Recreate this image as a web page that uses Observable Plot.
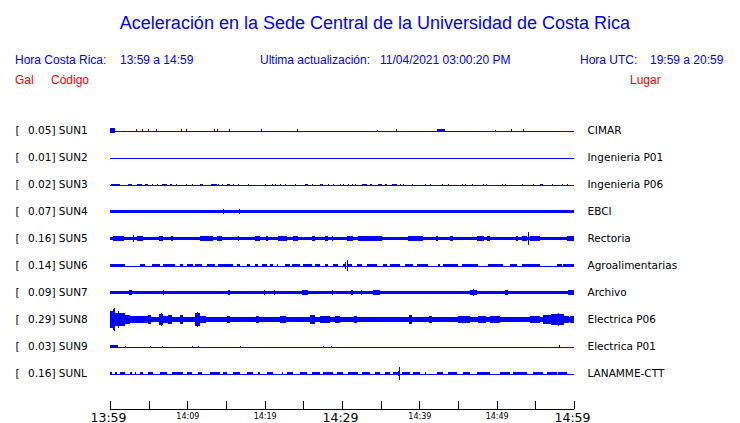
<!DOCTYPE html>
<html><head><meta charset="utf-8">
<script src="https://cdn.jsdelivr.net/npm/d3@7"></script>
<script src="https://cdn.jsdelivr.net/npm/@observablehq/plot@0.6"></script>
<style>
html,body{margin:0;padding:0;background:#fff}
body{width:740px;height:423px;position:relative;overflow:hidden}
#hdr,#traces,#axis{position:absolute;left:0}
#hdr{top:0}#traces{top:100px}#axis{top:390px}
</style></head><body>
<div id="hdr"></div><div id="traces"></div><div id="axis"></div>
<script>
// ---- data ----
const stationCodes = ["SUN1","SUN2","SUN3","SUN4","SUN5","SUN6","SUN7","SUN8","SUN9","SUNL"];
const peakGal = [0.05,0.01,0.02,0.07,0.16,0.14,0.09,0.29,0.03,0.16];
const places = ["CIMAR","Ingenieria P01","Ingenieria P06","EBCI","Rectoria","Agroalimentarias","Archivo","Electrica P06","Electrica P01","LANAMME-CTT"];

// minutes after 13:59 ; envelope half-amplitude in gal
const bandsSUN1 = [[0,0.65,0.05],[42.3,43.2,0.035]];
const spikesSUN1 = [[3.36,0.03],[4.14,0.03],[4.91,0.03],[5.95,0.025],[9.18,0.03],[9.83,0.03],[13.45,0.025],[13.84,0.03],[15.39,0.03],[19.53,0.03],[24.18,0.03],[34.53,0.02],[36.98,0.03],[42.41,0.045],[42.8,0.04],[43.19,0.04],[49.78,0.02],[51.85,0.03],[53.41,0.03]];
const bandsSUN2 = [];
const spikesSUN2 = [];
const bandsSUN3 = [[0.13,1.29,0.02],[2.37,2.8,0.02],[3.45,4.1,0.02],[4.53,4.96,0.02],[6.77,7.33,0.02],[7.76,7.97,0.02],[11.64,12.07,0.02],[13.02,13.79,0.02],[15.09,15.52,0.02],[25.22,25.65,0.02],[27.16,27.59,0.02],[32.54,33.19,0.02],[33.62,33.84,0.02],[34.7,35.13,0.02],[35.56,35.86,0.02],[36.42,37.07,0.02],[55.6,56.03,0.02]];
const spikesSUN3 = [[5.39,0.02],[6.03,0.02],[8.53,0.02],[9.83,0.02],[10.56,0.02],[14.01,0.02],[14.44,0.02],[15.95,0.02],[16.59,0.02],[17.89,0.02],[20.04,0.02],[20.9,0.02],[21.34,0.02],[21.98,0.02],[22.63,0.02],[23.92,0.02],[26.08,0.02],[28.23,0.02],[28.88,0.02],[29.74,0.02],[30.17,0.02],[30.82,0.02],[31.25,0.02],[31.68,0.02],[37.5,0.02],[37.93,0.02],[39.01,0.02],[40.73,0.02],[41.38,0.02],[42.89,0.02],[43.75,0.02],[45.47,0.02],[45.91,0.02],[46.77,0.02],[48.28,0.02],[48.62,0.02],[50.65,0.02],[51.08,0.02],[53.24,0.02],[54.74,0.02],[57.11,0.02],[58.41,0.02],[59.05,0.02]];
const bandsSUN4 = [[0,60,0.046]];
const spikesSUN4 = [[14.6,0.06],[16.72,0.07]];
const bandsSUN5 = [[0,60,0.048],[0.4,1.8,0.062],[3.45,4.31,0.062],[6.3,6.9,0.062],[7.9,8.1,0.062],[11.6,13.3,0.062],[13.8,14.5,0.062],[16.5,16.7,0.062],[18.8,19.4,0.062],[20.2,20.4,0.062],[21.7,22.9,0.062],[23.7,24.3,0.062],[26.1,26.5,0.062],[27.8,28.2,0.062],[28.7,28.9,0.062],[30.6,31.4,0.062],[32.1,35.2,0.062],[38.5,40.5,0.062],[42.2,42.4,0.062],[44.0,44.4,0.062],[47.5,48.3,0.062],[48.7,49.1,0.062],[52.5,52.7,0.062],[53.3,53.9,0.062],[54.3,55.6,0.062],[59.1,60,0.062]];
const spikesSUN5 = [[2.97,0.08],[54.1,0.16]];
const bandsSUN6 = [[0,1.94,0.037],[3.88,4.53,0.037],[5.39,6.47,0.037],[6.9,8.41,0.037],[9.05,9.48,0.037],[9.91,10.78,0.037],[10.99,11.85,0.037],[12.5,13.58,0.037],[14.01,15.95,0.037],[16.38,16.81,0.037],[17.67,18.1,0.037],[18.75,19.18,0.037],[19.61,20.26,0.037],[20.69,21.12,0.037],[21.55,21.77,0.037],[22.63,23.28,0.037],[23.49,24.57,0.037],[25.0,26.08,0.037],[26.51,27.16,0.037],[27.8,28.23,0.037],[28.88,29.53,0.037],[30.17,30.47,0.037],[30.82,31.25,0.037],[31.9,32.54,0.037],[33.19,34.48,0.037],[35.34,35.78,0.037],[36.21,37.5,0.037],[38.15,39.22,0.037],[39.66,41.16,0.037],[42.46,42.67,0.037],[43.1,45.04,0.037],[45.47,47.63,0.037],[48.92,50.86,0.037],[51.72,52.59,0.037],[53.23,55.6,0.037],[57.76,58.41,0.037],[58.62,60,0.037]];
const spikesSUN6 = [[30.6,0.14],[30.45,0.08]];
const bandsSUN7 = [[0,60,0.038],[2.4,2.8,0.065],[6.8,7.0,0.055],[15.3,15.5,0.06],[19.9,20.1,0.055],[21.2,21.4,0.055],[24.8,25.6,0.055],[28.7,28.9,0.05],[31.2,31.4,0.055],[32.4,32.6,0.05],[34.0,34.9,0.05],[46.5,47.4,0.06],[51.1,51.5,0.055],[59.2,60,0.06]];
const spikesSUN7 = [[2.6,0.07],[46.9,0.09]];
const bandsSUN8 = [[0,60,0.05],[0,0.4,0.2],[0.4,0.7,0.26],[0.7,2.0,0.16],[2.0,2.6,0.11],[2.6,4.9,0.08],[4.9,5.3,0.12],[5.3,6.4,0.07],[6.4,6.9,0.14],[6.9,7.5,0.08],[7.5,8.0,0.11],[8.0,9.0,0.07],[9.0,9.5,0.1],[9.5,11.0,0.065],[11.0,11.6,0.16],[11.6,12.4,0.08],[15.1,15.5,0.08],[16.9,17.3,0.07],[18.9,19.3,0.08],[20.5,20.9,0.07],[22.0,22.8,0.085],[24.4,24.7,0.07],[25.9,26.5,0.11],[27.2,28.4,0.08],[29.1,29.7,0.09],[30.5,30.8,0.07],[31.5,31.9,0.08],[32.5,33.3,0.07],[33.6,34.9,0.07],[36.8,37.2,0.07],[38.6,39.0,0.11],[40.1,40.7,0.07],[41.2,41.6,0.08],[43.8,44.2,0.07],[45.0,46.6,0.08],[47.6,48.6,0.09],[49.1,50.4,0.08],[51.7,53.0,0.07],[54.3,55.6,0.08],[56.0,57.0,0.105],[57.0,58.7,0.14],[58.7,59.3,0.09],[59.5,60,0.085]];
const spikesSUN8 = [[0.5,0.29],[1.0,0.2],[6.6,0.15],[11.3,0.19],[57.9,0.17]];
const bandsSUN9 = [[0,1.0,0.03]];
const spikesSUN9 = [[1.94,0.02],[5.17,0.02],[6.7,0.02],[10.6,0.02],[11.4,0.02],[16.8,0.02],[27.5,0.02],[28.6,0.02],[58.1,0.03]];
const bandsSUNL = [[0,0.2,0.025],[0.65,0.86,0.025],[1.29,1.94,0.025],[2.59,2.8,0.025],[3.88,4.31,0.025],[4.96,5.6,0.025],[6.47,7.33,0.025],[7.97,9.48,0.025],[9.91,10.56,0.025],[11.42,11.85,0.025],[12.93,14.22,0.025],[14.66,15.09,0.025],[15.95,16.81,0.025],[17.67,18.53,0.025],[19.18,19.4,0.025],[20.26,21.12,0.025],[22.2,22.41,0.025],[22.84,23.71,0.025],[24.57,25.43,0.025],[26.08,27.16,0.025],[27.59,28.88,0.025],[29.31,30.17,0.025],[30.82,32.11,0.025],[32.54,33.62,0.025],[34.27,34.91,0.025],[35.56,36.21,0.025],[36.64,37.28,0.025],[37.72,38.79,0.025],[39.22,40.09,0.025],[42.24,43.1,0.025],[43.75,44.83,0.025],[45.69,46.55,0.025],[47.41,49.14,0.025],[50.43,51.72,0.025],[52.16,53.88,0.025],[54.74,56.03,0.025],[56.47,57.76,0.025],[57.97,59.05,0.025]];
const spikesSUNL = [[3.23,0.025],[40.73,0.025],[37.41,0.16],[37.2,0.05]];

const tickMinutes = [0,5,10,15,20,25,30,35,40,45,50,55,60];
const tickLabelMinutes = [0,10,20,30,40,50,60];
const tickLabels = ["13:59","14:09","14:19","14:29","14:39","14:49","14:59"];
const majorLabels = ["13:59","14:29","14:59"];

// ---- tables ----
const bandsBy = {SUN1:bandsSUN1,SUN2:bandsSUN2,SUN3:bandsSUN3,SUN4:bandsSUN4,SUN5:bandsSUN5,SUN6:bandsSUN6,SUN7:bandsSUN7,SUN8:bandsSUN8,SUN9:bandsSUN9,SUNL:bandsSUNL};
const spikesBy = {SUN1:spikesSUN1,SUN2:spikesSUN2,SUN3:spikesSUN3,SUN4:spikesSUN4,SUN5:spikesSUN5,SUN6:spikesSUN6,SUN7:spikesSUN7,SUN8:spikesSUN8,SUN9:spikesSUN9,SUNL:spikesSUNL};
const stationRows = stationCodes.map((code,i)=>({code, gal:peakGal[i], place:places[i]}));
const bandRows = stationCodes.flatMap(code=>bandsBy[code].map(([t0,t1,amp])=>({code,t0,t1,amp})));
const spikeRows = stationCodes.flatMap(code=>spikesBy[code].map(([t,amp])=>({code,t,amp})));
const tickRows = tickLabelMinutes.map((t,i)=>({t,label:tickLabels[i],major:majorLabels.includes(tickLabels[i])}));

const BLUE = "#0000ff", RED = "#ff0000";

// ---- header ----
const hdr = d3.select("#hdr").append("svg").attr("width",740).attr("height",100)
  .style("font-family","'Liberation Sans', Arial, sans-serif");
function ht(s,x,y,size,fill,anchor){hdr.append("text").attr("x",x).attr("y",y).attr("font-size",size).attr("fill",fill).attr("text-anchor",anchor||"start").text(s);}
ht("Aceleración en la Sede Central de la Universidad de Costa Rica",375,29,18,BLUE,"middle");
ht("Hora Costa Rica:",15,64,12,BLUE);
ht("13:59 a 14:59",120,64,12,BLUE);
ht("Ultima actualización:",260,64,12,BLUE);
ht("11/04/2021 03:00:20 PM",380,64,12,BLUE);
ht("Hora UTC:",580,64,12,BLUE);
ht("19:59 a 20:59",650,64,12,BLUE);
ht("Gal",15,84,12,RED);
ht("Código",51,84,12,RED);
ht("Lugar",630,84,12,RED);

// ---- traces ----
const main = Plot.plot({
  width: 740, height: 290,
  marginLeft: 110, marginRight: 166, marginTop: 16.5, marginBottom: 3.5,
  style: {fontFamily: "'DejaVu Sans', sans-serif", fontSize: "10.5px", background: "transparent", overflow: "visible"},
  x: {domain: [0, 60], axis: null},
  y: {domain: [-0.33, 0.33], axis: null},
  fy: {domain: stationCodes, axis: null, padding: 0},
  marks: [
    Plot.ruleY(stationRows, {fy: "code", y: 0, x1: 0, x2: 60, stroke: BLUE, strokeWidth: 1, shapeRendering: "crispEdges"}),
    Plot.rect(bandRows, {fy: "code", x1: "t0", x2: "t1", y1: d => -d.amp, y2: "amp", fill: BLUE, shapeRendering: "crispEdges"}),
    Plot.ruleX(spikeRows, {fy: "code", x: "t", y1: d => -d.amp, y2: "amp", stroke: BLUE, strokeWidth: 1, shapeRendering: "crispEdges"}),
    Plot.text(stationRows, {fy: "code", frameAnchor: "left", dx: -95, text: () => "[", textAnchor: "start", fill: "black"}),
    Plot.text(stationRows, {fy: "code", frameAnchor: "left", dx: -82.5, text: d => `${d.gal.toFixed(2)}] ${d.code}`, textAnchor: "start", fill: "black"}),
    Plot.text(stationRows, {fy: "code", frameAnchor: "right", dx: 13, text: "place", textAnchor: "start", fill: "black"})
  ]
});
document.getElementById("traces").appendChild(main);

// ---- time axis ----
const axis = Plot.plot({
  width: 740, height: 33,
  marginLeft: 110, marginRight: 166, marginTop: 0, marginBottom: 0,
  style: {fontFamily: "'DejaVu Sans', sans-serif", background: "transparent", overflow: "visible"},
  x: {domain: [0, 60], axis: null},
  y: {domain: [0, 1], range: [19, 11], axis: null},
  marks: [
    Plot.ruleY([0], {x1: 0, x2: 60, stroke: "black", shapeRendering: "crispEdges"}),
    Plot.ruleX(tickMinutes, {x: d => d, y1: 0, y2: 1, stroke: "black", shapeRendering: "crispEdges"}),
    Plot.text(tickRows.filter(d => d.major), {x: "t", y: 0, text: "label", fontSize: 12.5, lineAnchor: "bottom", dy: 12, dx: -2, fill: "black"}),
    Plot.text(tickRows.filter(d => !d.major), {x: "t", y: 0, text: "label", fontSize: 8, lineAnchor: "bottom", dy: 9, fill: "black"})
  ]
});
document.getElementById("axis").appendChild(axis);
</script>
</body></html>
